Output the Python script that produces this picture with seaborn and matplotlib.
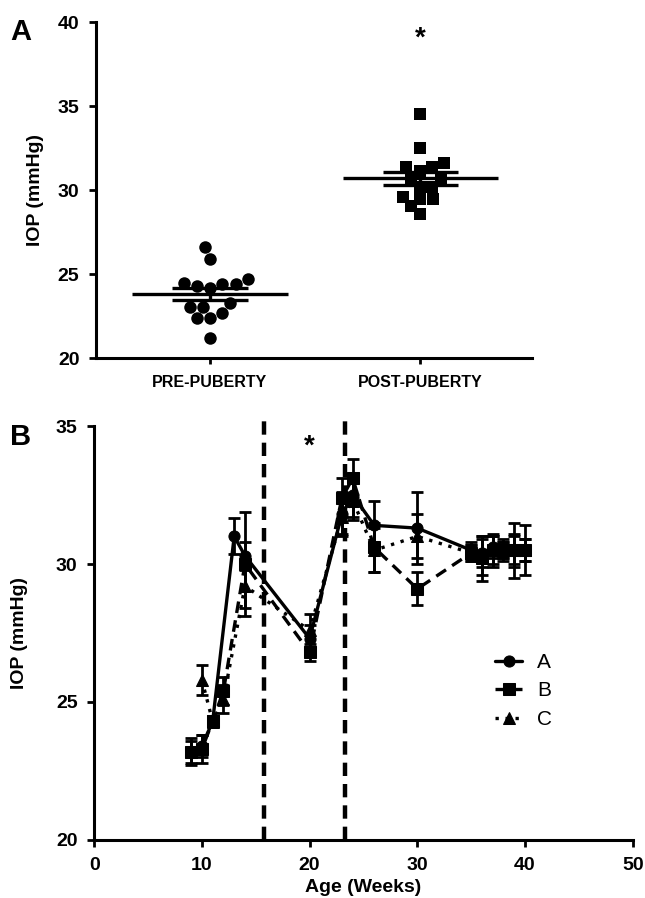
import numpy as np
import pandas as pd
import matplotlib
matplotlib.use("Agg")
import matplotlib.pyplot as plt
import seaborn as sns

# ---------------- Data ----------------
# Panel A
groups = ["PRE-PUBERTY", "POST-PUBERTY"]
pre_iop = [26.6, 25.9, 24.5, 24.4, 24.2, 24.3, 24.4, 24.7, 23.3, 23.05, 23.05, 22.7, 22.4, 22.4, 21.2]
post_iop = [34.5, 32.5, 31.35, 31.6, 31.15, 31.35, 30.7, 30.7, 30.2, 30.2, 29.5, 29.6, 29.5, 29.05, 28.6]

# Panel B
weeks_a = [9, 10, 11, 13, 14, 20, 23, 24, 26, 30, 35, 36, 37, 38, 39, 40]
iop_a = [23.2, 23.4, 24.3, 31.0, 30.3, 27.3, 31.8, 32.5, 31.4, 31.3, 30.5, 30.4, 30.6, 30.5, 30.5, 30.5]
sem_a = [0.5, 0.4, 0.2, 0.65, 0.5, 0.5, 0.8, 0.8, 0.9, 1.3, 0.3, 0.5, 0.4, 0.3, 0.5, 0.4]

weeks_b = [9, 10, 11, 12, 14, 20, 23, 24, 26, 30, 35, 36, 37, 38, 39, 40]
iop_b = [23.2, 23.3, 24.3, 25.4, 30.0, 26.8, 32.4, 33.1, 30.6, 29.1, 30.4, 30.2, 30.5, 30.5, 30.5, 30.5]
sem_b = [0.4, 0.5, 0.2, 0.5, 1.9, 0.3, 0.7, 0.7, 0.9, 0.6, 0.3, 0.8, 0.6, 0.3, 1.0, 0.9]

weeks_c = [10, 11, 12, 14, 20, 23, 24, 26, 30, 35, 36, 37, 38, 39, 40]
iop_c = [25.8, 24.3, 25.1, 29.2, 27.6, 31.7, 32.3, 30.5, 31.0, 30.4, 30.3, 30.5, 30.5, 30.5, 30.5]
sem_c = [0.55, 0.2, 0.5, 0.8, 0.6, 0.6, 0.7, 0.8, 0.8, 0.3, 0.7, 0.5, 0.4, 0.6, 0.4]

series_names = ["A", "B", "C"]
puberty_bounds = [15.8, 23.3]

# ---------------- Style ----------------
sns.set_theme(style="ticks")
plt.rcParams["font.family"] = ["Liberation Sans", "DejaVu Sans"]
plt.rcParams["axes.linewidth"] = 2.2
plt.rcParams["xtick.major.width"] = 2.0
plt.rcParams["ytick.major.width"] = 2.0
plt.rcParams["xtick.major.size"] = 5
plt.rcParams["ytick.major.size"] = 5
for key in ["text.color", "axes.labelcolor", "xtick.color", "ytick.color", "axes.edgecolor"]:
    plt.rcParams[key] = "black"

fig = plt.figure(figsize=(6.45, 8.98), dpi=100)

# ---------------- Panel A ----------------
axA = fig.add_axes([0.149, 0.601, 0.676, 0.3745])
dfA = pd.DataFrame({
    "group": [groups[0]] * len(pre_iop) + [groups[1]] * len(post_iop),
    "iop": pre_iop + post_iop,
})
sns.swarmplot(data=dfA[dfA.group == groups[0]], x="group", y="iop", order=groups,
              color="black", marker="o", size=9, ax=axA)
sns.swarmplot(data=dfA[dfA.group == groups[1]], x="group", y="iop", order=groups,
              color="black", marker="s", size=8.5, ax=axA)
for i, vals in enumerate([pre_iop, post_iop]):
    m = np.mean(vals)
    s = np.std(vals, ddof=1) / np.sqrt(len(vals))
    axA.hlines(m, i - 0.37, i + 0.37, color="black", lw=2.4, zorder=5)
    axA.hlines([m - s, m + s], i - 0.18, i + 0.18, color="black", lw=2.4, zorder=5)
    axA.vlines(i, m - s, m + s, color="black", lw=2.4, zorder=5)
axA.set_xlim(-0.54, 1.53)
axA.set_ylim(20, 40)
axA.set_yticks([20, 25, 30, 35, 40])
axA.set_xlabel("")
axA.set_ylabel("IOP (mmHg)", fontsize=14, fontweight="bold", labelpad=10)
axA.tick_params(axis="y", labelsize=14, pad=7)
axA.tick_params(axis="x", labelsize=11.5, length=4, pad=8)
for lab in axA.get_xticklabels() + axA.get_yticklabels():
    lab.set_fontweight("bold")
axA.text(1, 39.0, "*", ha="center", va="center", fontsize=20, fontweight="bold")
sns.despine(ax=axA)
fig.text(0.016, 0.964, "A", fontsize=21, fontweight="bold", va="center")

# ---------------- Panel B ----------------
axB = fig.add_axes([0.146, 0.0646, 0.835, 0.461])
styles = {"A": "o", "B": "s", "C": "^"}
rows = []
for name, w, v, e in zip(series_names, [weeks_a, weeks_b, weeks_c],
                         [iop_a, iop_b, iop_c], [sem_a, sem_b, sem_c]):
    for wi, vi, ei in zip(w, v, e):
        rows.append({"series": name, "week": wi, "iop": vi, "err": ei})
dfB = pd.DataFrame(rows)

for name in series_names:
    d = dfB[dfB["series"] == name]
    axB.errorbar(d["week"].to_numpy(), d["iop"].to_numpy(), yerr=d["err"].to_numpy(),
                 fmt="none", ecolor="black", elinewidth=2.0, capsize=4.5,
                 capthick=2.0, zorder=3)

sns.lineplot(data=dfB, x="week", y="iop", hue="series", style="series",
             hue_order=series_names, style_order=series_names,
             palette=["black"] * 3,
             markers=styles,
             dashes={"A": "", "B": (3.5, 2.2), "C": (1, 2.0)},
             markersize=8, linewidth=2.4, markeredgecolor="black",
             ax=axB, zorder=4, legend=True)

axB.vlines(puberty_bounds, 20, 35.4, colors="black", linestyles=(0, (3, 1.8)),
           lw=3.2, clip_on=False, zorder=2)
axB.text(20, 34.25, "*", ha="center", va="center", fontsize=20, fontweight="bold")
axB.set_xlim(0, 50)
axB.set_ylim(20, 35)
axB.set_xticks([0, 10, 20, 30, 40, 50])
axB.set_yticks([20, 25, 30, 35])
axB.set_xlabel("Age (Weeks)", fontsize=14, fontweight="bold", labelpad=4)
axB.set_ylabel("IOP (mmHg)", fontsize=14, fontweight="bold", labelpad=20)
axB.tick_params(labelsize=14, pad=7)
for lab in axB.get_xticklabels() + axB.get_yticklabels():
    lab.set_fontweight("bold")
sns.despine(ax=axB)

handles, labels = axB.get_legend_handles_labels()
leg = axB.legend(handles, labels, loc="center left", bbox_to_anchor=(0.71, 0.36),
                 frameon=False, fontsize=15, handlelength=1.3, handletextpad=0.7,
                 labelspacing=0.45)
fig.text(0.016, 0.513, "B", fontsize=21, fontweight="bold", va="center")

fig.savefig("out.png", dpi=100)
